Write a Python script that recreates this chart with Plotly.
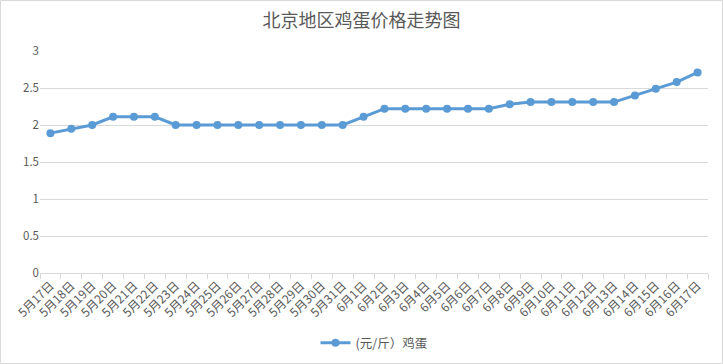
import plotly.graph_objects as go

dates = ["5月17日", "5月18日", "5月19日", "5月20日", "5月21日", "5月22日", "5月23日", "5月24日",
         "5月25日", "5月26日", "5月27日", "5月28日", "5月29日", "5月30日", "5月31日",
         "6月1日", "6月2日", "6月3日", "6月4日", "6月5日", "6月6日", "6月7日", "6月8日",
         "6月9日", "6月10日", "6月11日", "6月12日", "6月13日", "6月14日", "6月15日", "6月16日", "6月17日"]
prices = [1.89, 1.95, 2.0, 2.11, 2.11, 2.11, 2.0, 2.0,
          2.0, 2.0, 2.0, 2.0, 2.0, 2.0, 2.0,
          2.11, 2.22, 2.22, 2.22, 2.22, 2.22, 2.22, 2.28,
          2.31, 2.31, 2.31, 2.31, 2.31, 2.4, 2.49, 2.58, 2.71]
y_ticks = [0, 0.5, 1, 1.5, 2, 2.5, 3]
y_tick_text = ["0", "0.5", "1", "1.5", "2", "2.5", "3"]
series_name = "(元/斤）鸡蛋"
title = "北京地区鸡蛋价格走势图"

FONT = "Noto Sans CJK SC, Microsoft YaHei, sans-serif"
GRAY = "#595959"
GRID = "#d9d9d9"
BLUE = "#5b9bd5"

fig = go.Figure()
fig.add_trace(go.Scatter(
    x=dates, y=prices, mode="lines+markers", name=series_name,
    line=dict(color=BLUE, width=3),
    marker=dict(color=BLUE, size=8),
))

L, R, T, B = 40, 15, 51, 91
W, H = 723, 364
pw, ph = W - L - R, H - T - B

fig.update_layout(
    width=W, height=H,
    margin=dict(l=L, r=R, t=T, b=B, autoexpand=False),
    paper_bgcolor="white", plot_bgcolor="white",
    font=dict(family=FONT, color=GRAY, size=11),
    title=dict(text=title, x=0.5, xanchor="center", y=1 - 21 / H, yanchor="middle",
               font=dict(family=FONT, size=18, color=GRAY)),
    showlegend=True,
    legend=dict(orientation="h", x=0.5, xanchor="center", y=-(343 - 273) / ph, yanchor="middle",
                font=dict(family=FONT, size=12.5, color=GRAY), bgcolor="rgba(0,0,0,0)"),
    xaxis=dict(
        type="category", range=[-0.5, len(dates) - 0.5], automargin=False,
        tickangle=-45, tickfont=dict(family=FONT, size=12, color=GRAY),
        showgrid=False, showline=True, linecolor=GRID, linewidth=1,
        ticks="outside", tickson="boundaries", ticklen=5, tickcolor=GRID,
        zeroline=False, fixedrange=True,
    ),
    yaxis=dict(
        range=[0, 3], tickvals=y_ticks, ticktext=y_tick_text, automargin=False,
        tickfont=dict(family=FONT, size=11.5, color=GRAY),
        showgrid=True, gridcolor=GRID, gridwidth=1,
        zeroline=False, showline=False, ticks="", ticklen=0,
    ),
    shapes=[dict(type="rect", xref="paper", yref="paper",
                 x0=-(L - 0.5) / pw, x1=1 + (R - 0.5) / pw,
                 y0=-(B - 0.5) / ph, y1=1 + (T - 0.5) / ph,
                 line=dict(color=GRID, width=1), fillcolor="rgba(0,0,0,0)", layer="below")],
)

fig.write_html("out.html", config={"displayModeBar": False},
               post_script="document.body.style.margin='0';document.body.style.overflow='hidden';")
